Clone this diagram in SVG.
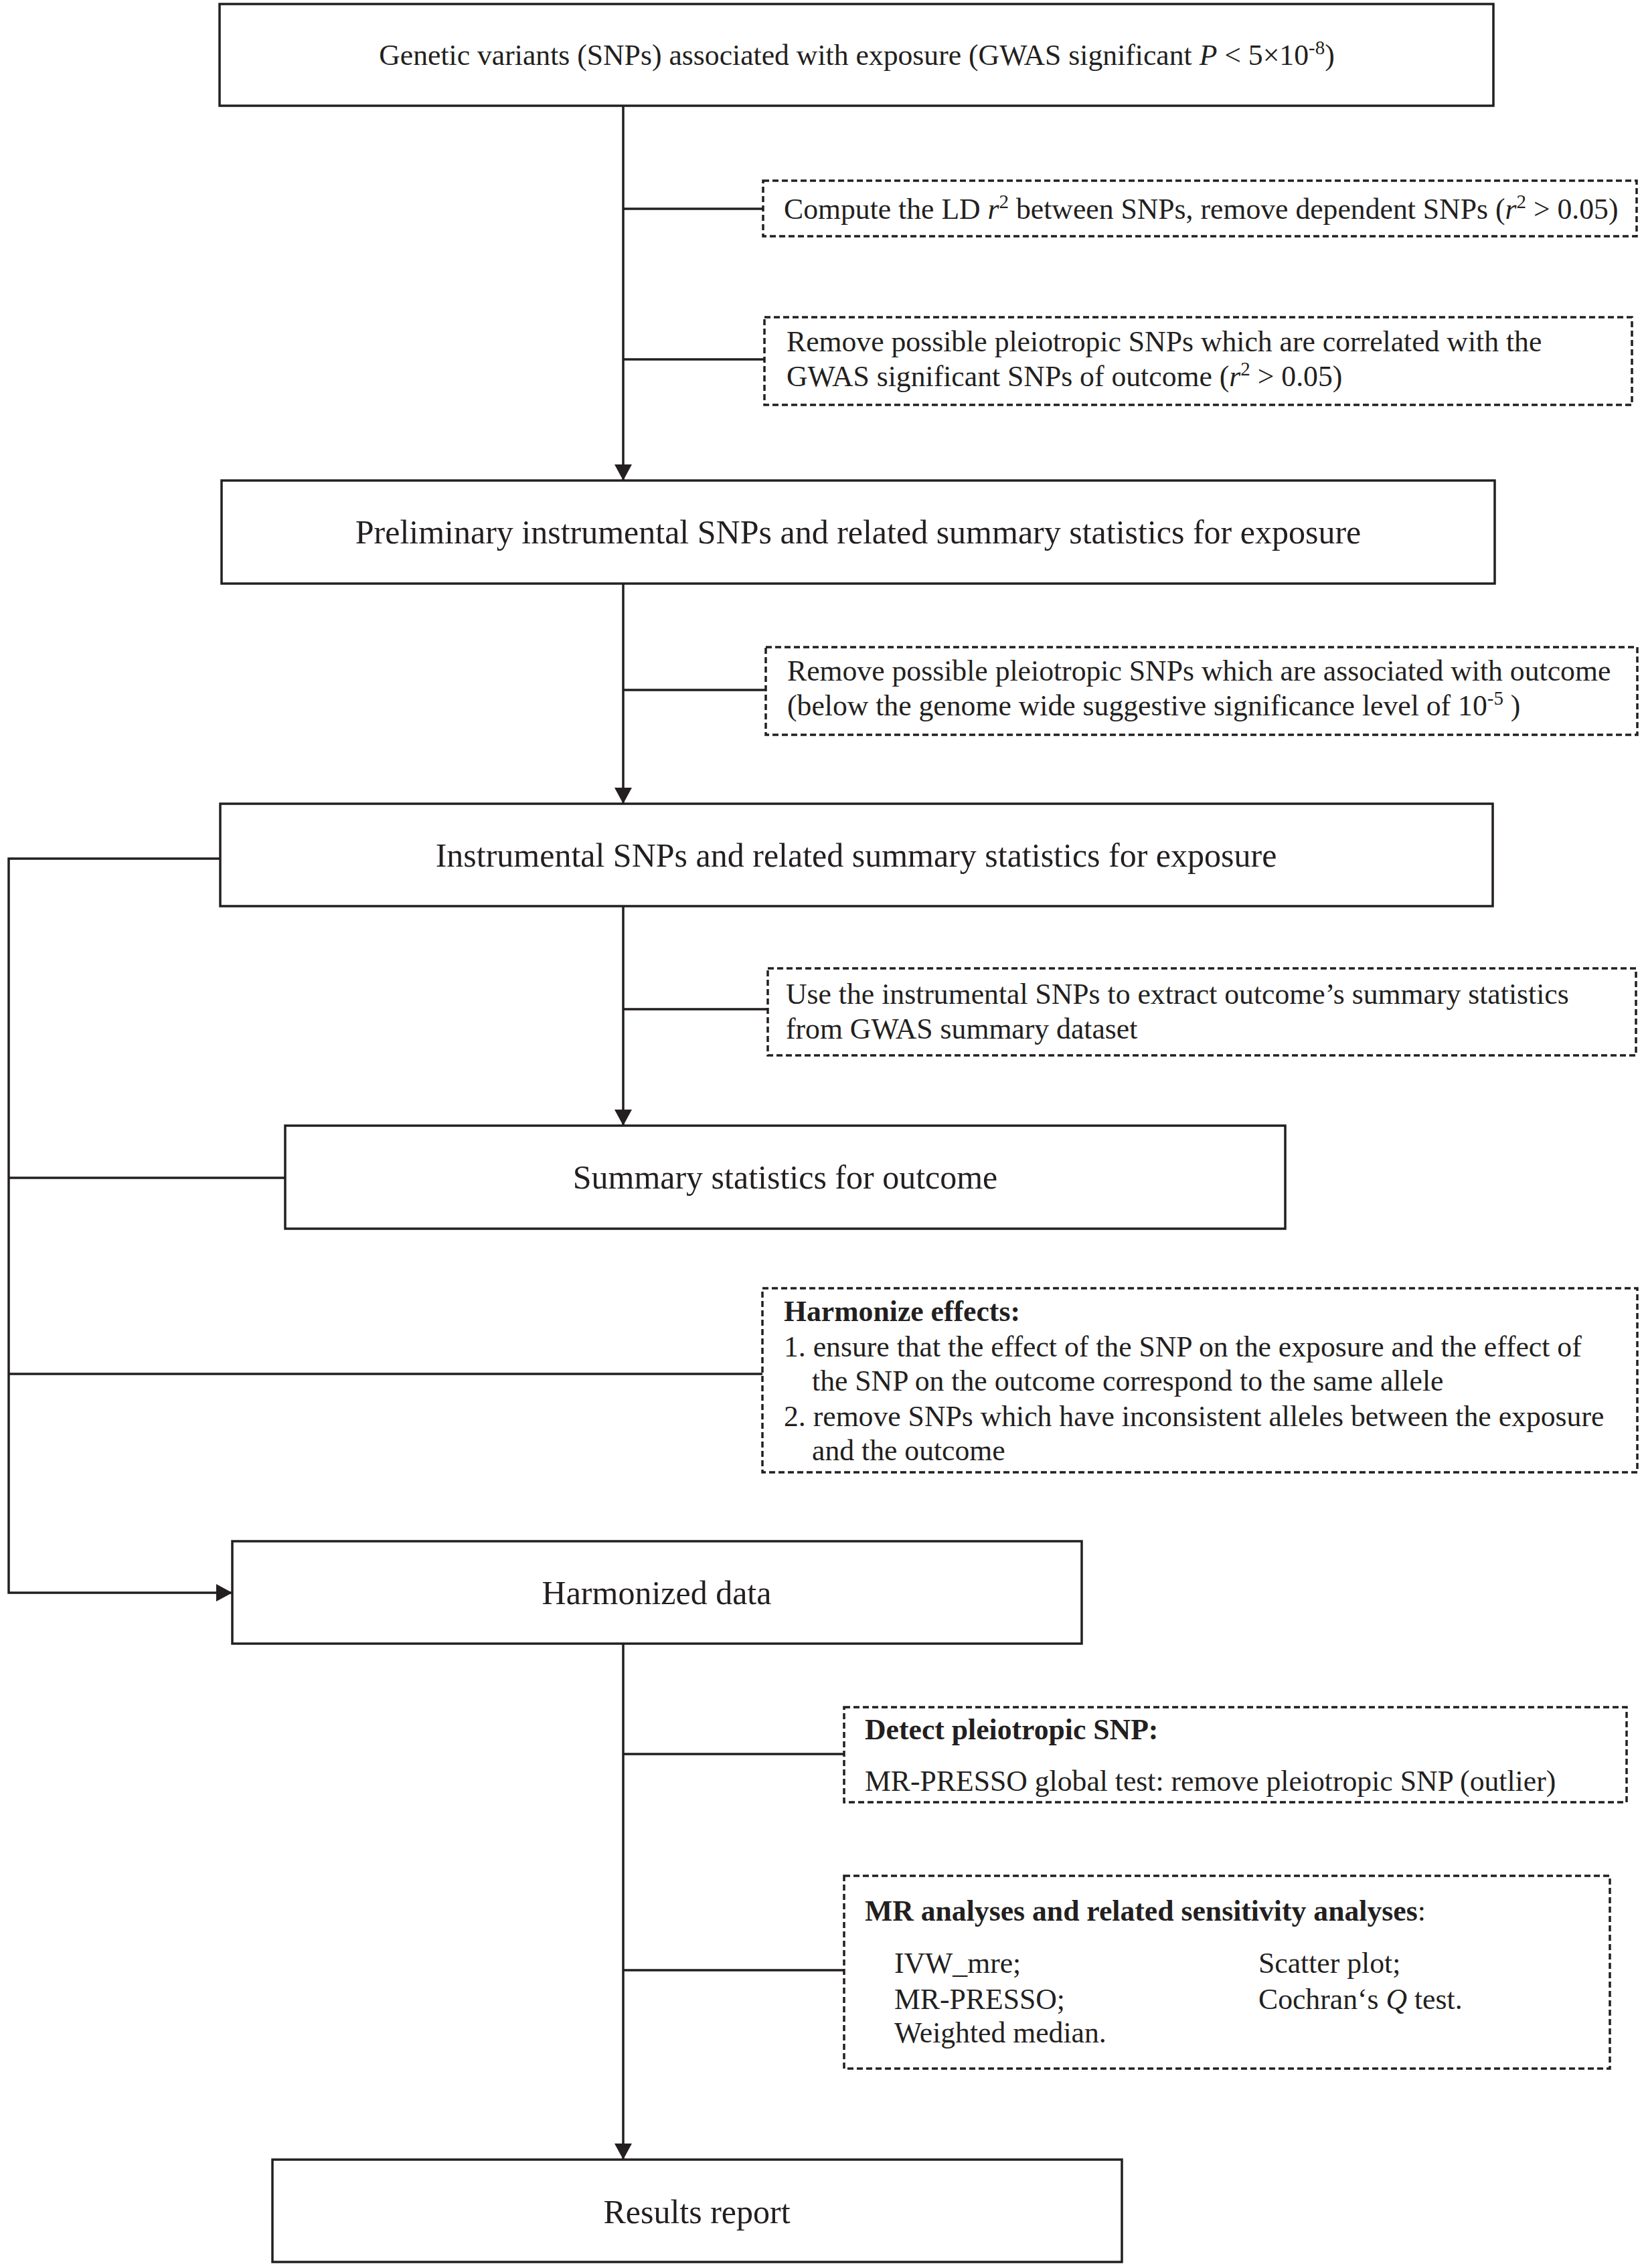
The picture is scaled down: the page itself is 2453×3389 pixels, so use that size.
<svg xmlns="http://www.w3.org/2000/svg" width="2453" height="3389" viewBox="0 0 2453 3389">
<style>
  .box { fill: #ffffff; stroke: #231f20; stroke-width: 3.5; }
  .dbox { fill: #ffffff; stroke: #231f20; stroke-width: 3.5; stroke-dasharray: 9 5; }
  .ln { fill: none; stroke: #231f20; stroke-width: 3.5; }
  .t { font-family: "Liberation Serif", "Times New Roman", serif; fill: #231f20; }
  .big { font-size: 50px; text-anchor: middle; }
  .sm { font-size: 43.7px; }
  .b { font-weight: bold; }
  .i { font-style: italic; }
</style>
<defs>
  <marker id="arr" markerUnits="userSpaceOnUse" markerWidth="24" markerHeight="26" viewBox="0 0 24 26" refX="24" refY="13" orient="auto">
    <path d="M0,0 L24,13 L0,26 z" fill="#231f20"/>
  </marker>
</defs>
<rect width="2453" height="3389" fill="#ffffff"/>

<g id="connectors">
  <line class="ln" x1="931" y1="158" x2="931" y2="718" marker-end="url(#arr)"/>
  <line class="ln" x1="931" y1="872" x2="931" y2="1201" marker-end="url(#arr)"/>
  <line class="ln" x1="931" y1="1354" x2="931" y2="1682" marker-end="url(#arr)"/>
  <line class="ln" x1="931" y1="2456" x2="931" y2="3227" marker-end="url(#arr)"/>
  <line class="ln" x1="931" y1="312" x2="1140" y2="312"/>
  <line class="ln" x1="931" y1="537" x2="1142" y2="537"/>
  <line class="ln" x1="931" y1="1031" x2="1144" y2="1031"/>
  <line class="ln" x1="931" y1="1508" x2="1147" y2="1508"/>
  <line class="ln" x1="931" y1="2621" x2="1261" y2="2621"/>
  <line class="ln" x1="931" y1="2944" x2="1261" y2="2944"/>
  <polyline class="ln" points="329,1283 13,1283 13,2380 347,2380" marker-end="url(#arr)"/>
  <line class="ln" x1="13" y1="1760" x2="426" y2="1760"/>
  <line class="ln" x1="13" y1="2053" x2="1139" y2="2053"/>
</g>

<g id="node-gwas">
  <rect class="box" x="328" y="6" width="1903" height="152"/>
  <text class="t sm" x="1280" y="97" text-anchor="middle">Genetic variants (SNPs) associated with exposure (GWAS significant <tspan class="i">P</tspan> &lt; 5×10<tspan dy="-16" font-size="29">-8</tspan><tspan dy="16">)</tspan></text>
</g>

<g id="node-ld">
  <rect class="dbox" x="1140" y="270" width="1305" height="83"/>
  <text class="t sm" x="1171" y="327">Compute the LD <tspan class="i">r</tspan><tspan dy="-16" font-size="29">2</tspan><tspan dy="16"> between SNPs, remove dependent SNPs (</tspan><tspan class="i">r</tspan><tspan dy="-16" font-size="29">2</tspan><tspan dy="16"> &gt; 0.05)</tspan></text>
</g>

<g id="node-pleio1">
  <rect class="dbox" x="1142" y="474" width="1296" height="131"/>
  <text class="t sm" x="1175" y="525">Remove possible pleiotropic SNPs which are correlated with the</text>
  <text class="t sm" x="1175" y="577">GWAS significant SNPs of outcome (<tspan class="i">r</tspan><tspan dy="-16" font-size="29">2</tspan><tspan dy="16"> &gt; 0.05)</tspan></text>
</g>

<g id="node-prelim">
  <rect class="box" x="331" y="718" width="1902" height="154"/>
  <text class="t big" x="1282" y="812">Preliminary instrumental SNPs and related summary statistics for exposure</text>
</g>

<g id="node-pleio2">
  <rect class="dbox" x="1144" y="967" width="1302" height="131"/>
  <text class="t sm" x="1176" y="1017">Remove possible pleiotropic SNPs which are associated with outcome</text>
  <text class="t sm" x="1176" y="1069">(below the genome wide suggestive significance level of 10<tspan dy="-16" font-size="29">-5</tspan><tspan dy="16"> )</tspan></text>
</g>

<g id="node-instr">
  <rect class="box" x="329" y="1201" width="1901" height="153"/>
  <text class="t big" x="1279" y="1295">Instrumental SNPs and related summary statistics for exposure</text>
</g>

<g id="node-extract">
  <rect class="dbox" x="1147" y="1447" width="1297" height="130"/>
  <text class="t sm" x="1174" y="1500">Use the instrumental SNPs to extract outcome’s summary statistics</text>
  <text class="t sm" x="1174" y="1552">from GWAS summary dataset</text>
</g>

<g id="node-outcome">
  <rect class="box" x="426" y="1682" width="1494" height="154"/>
  <text class="t big" x="1173" y="1776">Summary statistics for outcome</text>
</g>

<g id="node-harmonize">
  <rect class="dbox" x="1139" y="1925" width="1307" height="275"/>
  <text class="t sm b" x="1171" y="1974">Harmonize effects:</text>
  <text class="t sm" x="1171" y="2027">1. ensure that the effect of the SNP on the exposure and the effect of</text>
  <text class="t sm" x="1213" y="2078">the SNP on the outcome correspond to the same allele</text>
  <text class="t sm" x="1171" y="2131">2. remove SNPs which have inconsistent alleles between the exposure</text>
  <text class="t sm" x="1213" y="2182">and the outcome</text>
</g>

<g id="node-harmonized">
  <rect class="box" x="347" y="2303" width="1269" height="153"/>
  <text class="t big" x="981" y="2397">Harmonized data</text>
</g>

<g id="node-detect">
  <rect class="dbox" x="1261" y="2551" width="1169" height="142"/>
  <text class="t sm b" x="1292" y="2599">Detect pleiotropic SNP:</text>
  <text class="t sm" x="1292" y="2676">MR-PRESSO global test: remove pleiotropic SNP (outlier)</text>
</g>

<g id="node-mr">
  <rect class="dbox" x="1261" y="2803" width="1144" height="288"/>
  <text class="t sm" x="1292" y="2870"><tspan class="b">MR analyses and related sensitivity analyses</tspan>:</text>
  <text class="t sm" x="1336" y="2948">IVW_mre;</text>
  <text class="t sm" x="1336" y="3002">MR-PRESSO;</text>
  <text class="t sm" x="1336" y="3052">Weighted median.</text>
  <text class="t sm" x="1880" y="2948">Scatter plot;</text>
  <text class="t sm" x="1880" y="3002">Cochran‘s <tspan class="i">Q</tspan> test.</text>
</g>

<g id="node-results">
  <rect class="box" x="407" y="3227" width="1269" height="153"/>
  <text class="t big" x="1041" y="3322">Results report</text>
</g>
</svg>
